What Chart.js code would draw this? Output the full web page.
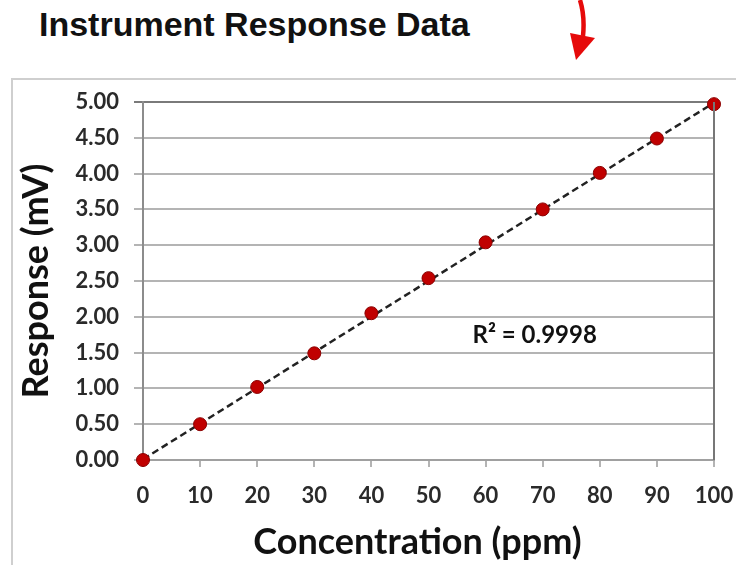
<!DOCTYPE html>
<html>
<head>
<meta charset="utf-8">
<script src="https://cdn.jsdelivr.net/npm/chart.js@4.4.1/dist/chart.umd.min.js"></script>
<style>
  html, body { margin: 0; padding: 0; background: #fff; }
  body { width: 736px; height: 565px; position: relative; overflow: hidden; }
  #title { position: absolute; left: 39px; top: 7px; font: bold 34px/34px "Liberation Sans", Arial, sans-serif; color: #111; white-space: nowrap; }
  #arrow { position: absolute; left: 0; top: 0; }
  #frame { position: absolute; left: 11px; top: 78px; width: 760px; height: 600px; border: 2px solid #cfcfcf; }
  #chartBox { position: absolute; left: 14px; top: 80px; width: 722px; height: 485px; }
</style>
</head>
<body>
<div id="title">Instrument Response Data</div>
<svg id="arrow" width="736" height="70">
  <path d="M580,0 Q585,16 583,36" stroke="#e60a0a" stroke-width="4.5" fill="none"/>
  <polygon points="570,33 595,38 576,60" fill="#e60a0a"/>
</svg>
<div id="frame"></div>
<div id="chartBox"><canvas id="myChart" width="722" height="485"></canvas></div>
<script>
const concentration = [0, 10, 20, 30, 40, 50, 60, 70, 80, 90, 100];
const response = [0.00, 0.50, 1.02, 1.49, 2.05, 2.54, 3.04, 3.50, 4.01, 4.49, 4.97];
const trendX = [0, 100];
const trendY = [0.01, 4.99];
const rSquaredLabel = 'R\u00b2 = 0.9998';
const xTitle = 'Concentration (ppm)';
// where the R² note sits, in data units
const rSquaredAt = { x: 68.6, y: 1.74 };

const points = concentration.map((c, i) => ({ x: c, y: response[i] }));
const trend = trendX.map((c, i) => ({ x: c, y: trendY[i] }));

const tickFont = { family: 'Lato', size: 22, weight: 'bold' };
const titleFont = { family: 'Lato', size: 36, weight: 'bold' };

// right edge of plot area, x title, R² text
const extras = {
  id: 'extras',
  afterDatasetsDraw(chart) {
    const { ctx, chartArea, scales } = chart;
    ctx.save();
    ctx.strokeStyle = '#777';
    ctx.lineWidth = 2;
    ctx.beginPath();
    ctx.moveTo(chartArea.right, chartArea.top);
    ctx.lineTo(chartArea.right, chartArea.bottom);
    ctx.stroke();
    ctx.fillStyle = '#111';
    ctx.textAlign = 'center';
    ctx.textBaseline = 'middle';
    ctx.font = 'bold 24px Lato';
    ctx.fillText(rSquaredLabel, scales.x.getPixelForValue(rSquaredAt.x), scales.y.getPixelForValue(rSquaredAt.y));
    ctx.font = 'bold 36px Lato';
    ctx.fillText(xTitle, (chartArea.left + chartArea.right) / 2 - 11, scales.x.bottom - 23);
    ctx.restore();
  }
};

var ctx = document.getElementById('myChart').getContext('2d');
var chart = new Chart(ctx, {
  type: 'scatter',
  data: {
    datasets: [
      {
        label: 'Response',
        data: points,
        backgroundColor: '#c00000',
        borderColor: '#8a0000',
        borderWidth: 1,
        pointRadius: 6.5,
        clip: false,
        order: 1,
      },
      {
        label: 'Linear',
        type: 'line',
        data: trend,
        borderColor: '#222',
        borderWidth: 2.5,
        borderDash: [7, 4],
        pointRadius: 0,
        fill: false,
        clip: false,
        order: 2,
      },
    ],
  },
  options: {
    responsive: false,
    animation: false,
    devicePixelRatio: 1,
    layout: { padding: { top: 22, right: 22, left: 0, bottom: 0 } },
    plugins: { legend: { display: false }, tooltip: { enabled: false } },
    scales: {
      x: {
        type: 'linear',
        min: 0,
        max: 100,
        afterFit: (s) => { s.height = 105; s.paddingLeft = 0; s.paddingRight = 0; },
        ticks: { stepSize: 10, color: '#2a2a2a', font: tickFont, padding: 16, maxRotation: 0 },
        grid: { drawOnChartArea: false, drawTicks: true, tickLength: 7, color: '#b4b4b4', lineWidth: 2 },
        border: { display: true, color: '#a0a0a0', width: 2 },
      },
      y: {
        min: 0,
        max: 5,
        afterFit: (s) => { s.width = 129; s.paddingTop = 0; s.paddingBottom = 0; },
        ticks: { stepSize: 0.5, color: '#2a2a2a', font: tickFont, padding: 15, callback: (v) => v.toFixed(2) },
        grid: {
          tickLength: 9,
          lineWidth: 2,
          color: (c) => (c.tick && c.tick.value === 5 ? '#7a7a7a' : '#b4b4b4'),
        },
        border: { display: true, color: '#8c8c8c', width: 2 },
        title: { display: true, text: 'Response (mV)', color: '#111', font: titleFont, padding: { top: 1, bottom: 0 } },
      },
    },
  },
  plugins: [extras],
});
</script>
</body>
</html>
